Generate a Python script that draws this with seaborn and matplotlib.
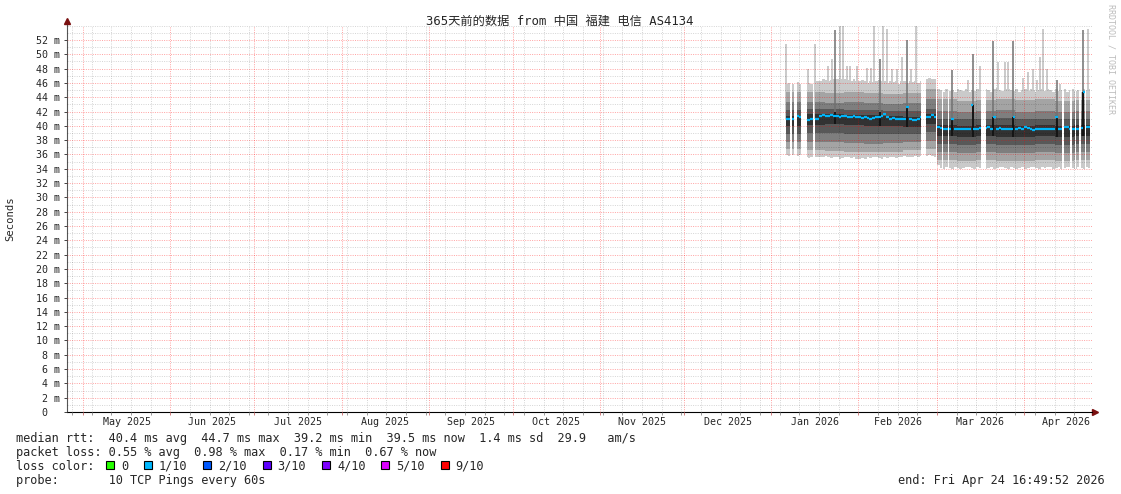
import numpy as np
import pandas as pd
import seaborn as sns
import matplotlib
matplotlib.use("Agg")
import matplotlib.pyplot as plt
import matplotlib.dates as mdates
from matplotlib.patches import Patch
from matplotlib.ticker import MultipleLocator, FixedLocator, FuncFormatter, NullFormatter

nan = np.nan

# day numbers are counted from 2026-01-01 00:00, one value per day from day 5 to day 113
first_day = 5

median_ms = [
    41.0, 41.0, 40.9, 40.9, 41.4, 41.2, nan, 40.8, 40.8, 40.9, 40.9, 41.0,
    41.4, 41.5, 41.4, 41.4, 41.5, 41.4, 41.4, 41.3, 41.4, 41.4, 41.3, 41.3, 41.4,
    41.3, 41.2, 41.1, 41.2, 41.1, 41.0, 41.1, 41.2, 41.3, 41.4, 41.6, 41.2, 41.0,
    41.1, 41.0, 41.0, 40.9, 41.0, 42.7, 40.9, 40.8, 40.8, 40.9, 41.2,
    nan, 41.3, 41.3, 41.5, 41.2,
    39.9, 39.7, 39.6, 39.5, 39.6, 41.0, 39.6, 39.5, 39.6, 39.5, 39.6, 39.5,
    42.9, 39.6, 39.6, 39.7, nan, 39.7, 39.8, 39.6, 41.2, 39.6, 39.7, 39.6,
    39.5, 39.6, 39.6, 41.2, 39.6, 39.7, 39.6, 39.9, 39.7, 39.5, 39.4, 39.5,
    39.5, 39.6, 39.5, 39.6, 39.5, 39.6, 41.2, 39.6, 39.6, 39.8, 39.9, 39.6,
    39.6, 39.5, 39.5, 39.7, 44.8, 39.8, 39.8,
]

# highest ping (top of the light smoke)
top_ms = [
    45.9, 46.0, 45.8, 45.9, 46.1, 45.9, nan, 46.3, 46.0, 45.8, 46.1, 46.2,
    46.3, 46.5, 46.4, 46.2, 46.4, 46.6, 46.5, 46.3, 46.5, 46.6, 46.4, 46.3, 46.5,
    46.2, 46.3, 46.4, 46.2, 46.0, 46.3, 46.1, 46.2, 46.4, 46.3, 46.2, 46.0, 46.3,
    46.1, 46.2, 45.9, 46.3, 46.2, 46.0, 46.2, 46.1, 46.3, 46.0, 46.2,
    nan, 46.6, 46.7, 46.5, 46.6,
    45.2, 45.0, 44.8, 45.1, 44.9, 45.0, 44.8, 45.2, 45.0, 44.9, 45.1, 44.8,
    45.0, 44.9, 45.1, 45.0, nan, 45.2, 45.0, 44.8, 45.1, 45.3, 45.0, 44.9,
    45.1, 45.2, 45.0, 44.9, 45.1, 44.8, 45.0, 45.2, 44.9, 45.1, 45.0, 44.8,
    45.0, 45.2, 44.9, 45.1, 45.0, 44.8, 45.1, 44.9, 45.0, 45.2, 44.8, 45.0,
    45.1, 44.9, 45.0, 44.8, 45.2, 45.0, 45.1,
]

# lowest ping (bottom of the light smoke)
bottom_ms = [
    35.9, 35.8, 35.9, 36.0, 35.8, 35.9, nan, 35.6, 35.5, 35.7, 35.6, 35.7,
    35.7, 35.6, 35.8, 35.6, 35.5, 35.7, 35.6, 35.4, 35.5, 35.6, 35.7, 35.5, 35.6,
    35.4, 35.3, 35.5, 35.4, 35.6, 35.5, 35.7, 35.6, 35.5, 35.4, 35.6, 35.5, 35.7,
    35.6, 35.5, 35.7, 35.6, 35.8, 35.7, 35.6, 35.7, 35.8, 35.7, 35.8,
    nan, 35.8, 35.9, 35.8, 35.7,
    34.5, 34.1, 34.0, 34.2, 34.1, 34.0, 34.2, 34.1, 34.0, 34.1, 34.3, 34.2,
    34.1, 34.0, 34.2, 34.1, nan, 34.0, 34.1, 34.2, 34.0, 34.1, 34.2, 34.3,
    34.1, 34.0, 34.2, 34.1, 34.0, 34.1, 34.2, 34.0, 34.1, 34.3, 34.2, 34.1,
    34.0, 34.2, 34.1, 34.3, 34.2, 34.0, 34.1, 34.2, 34.0, 34.1, 34.2, 34.3,
    34.1, 34.0, 34.2, 34.1, 34.0, 34.2, 34.1,
]

# inner smoke layers, one value per block of days
block_start = [5, 12, 19, 26, 33, 40, 47, 54, 59, 66, 73, 80, 87, 94, 101, 108]
p9_ms = [44.8, 44.7, 44.6, 44.7, 44.6, 44.5, 44.6, 45.1, 43.7, 43.5, 43.6, 43.8, 43.6, 43.7, 43.5, 43.6]
p8_ms = [43.4, 43.3, 43.2, 43.3, 43.2, 43.1, 43.2, 43.7, 42.1, 42.0, 42.1, 42.2, 42.0, 42.1, 42.0, 42.1]
p7_ms = [42.2, 42.3, 42.3, 42.2, 42.2, 42.1, 42.1, 42.4, 41.0, 40.9, 41.0, 41.1, 40.9, 41.0, 40.9, 41.0]
p6_ms = [41.4, 41.6, 41.6, 41.5, 41.5, 41.4, 41.3, 41.6, 40.1, 40.0, 40.1, 40.1, 40.0, 40.1, 40.0, 40.1]
p5_ms = [40.0, 40.1, 40.2, 40.1, 40.0, 40.0, 39.9, 40.2, 38.6, 38.5, 38.6, 38.5, 38.5, 38.6, 38.5, 38.6]
p4_ms = [38.9, 39.0, 39.0, 38.9, 38.8, 38.8, 38.9, 39.1, 37.4, 37.3, 37.4, 37.3, 37.3, 37.4, 37.3, 37.4]
p3_ms = [37.7, 37.8, 37.7, 37.6, 37.5, 37.6, 37.7, 37.9, 36.3, 36.2, 36.3, 36.2, 36.2, 36.3, 36.2, 36.3]
p2_ms = [36.7, 36.6, 36.5, 36.4, 36.3, 36.4, 36.6, 36.8, 35.2, 35.1, 35.2, 35.1, 35.1, 35.2, 35.1, 35.2]

# stretches with data (start day, end day)
segments = [(5.16, 6.69), (7.41, 8.12), (9.08, 10.61), (12.64, 14.99), (15.60, 53.34),
            (55.12, 58.58), (58.93, 60.72), (61.29, 62.85), (63.32, 74.71), (76.49, 103.66),
            (104.27, 106.45), (107.06, 108.16), (108.52, 109.71), (110.21, 111.75), (112.10, 113.70)]

# single slow pings
light_spike_day = [5.3, 13.1, 15.7, 20.2, 21.7, 24.5, 25.6, 27.0, 28.0, 30.6, 34.2, 35.6, 36.7,
                   39.9, 41.3, 43.1, 44.9, 46.7, 49.9, 51.7,
                   70.1, 74.5, 80.8, 83.3, 84.3, 89.6, 91.3, 93.2, 94.6, 95.7, 96.8, 98.2, 102.8, 112.8]
light_spike_top = [51.4, 47.9, 51.4, 48.3, 49.4, 54.0, 54.0, 48.3, 48.3, 48.3, 48.1, 48.1, 54.0,
                   54.0, 53.5, 48.0, 48.0, 49.6, 48.0, 54.0,
                   46.4, 48.3, 48.9, 48.9, 48.9, 46.7, 47.5, 48.0, 46.4, 49.6, 53.5, 48.0, 45.9, 53.5]
# several slow pings in one step
dark_spike_day = [22.7, 38.7, 48.4, 64.4, 71.9, 79.0, 86.1, 101.8, 111.0]
dark_spike_core = [42.0, 42.0, 42.7, 41.0, 42.9, 41.2, 41.2, 41.2, 44.8]
dark_spike_top = [53.4, 49.4, 52.0, 47.8, 50.1, 51.8, 51.8, 46.4, 53.4]

month_names = ["May 2025", "Jun 2025", "Jul 2025", "Aug 2025", "Sep 2025", "Oct 2025",
               "Nov 2025", "Dec 2025", "Jan 2026", "Feb 2026", "Mar 2026", "Apr 2026"]
y_ticks = list(range(0, 54, 2))

loss_labels = ["0", "1/10", "2/10", "3/10", "4/10", "5/10", "9/10"]
loss_colors = ["#26ff00", "#00b8ff", "#0059ff", "#5e00ff", "#7e00ff", "#dd00ff", "#ff0000"]

smoke_colors = ["#cacaca", "#a4a4a4", "#7e7e7e", "#585858", "#323232"]

W, H = 1121, 494

sns.set_style("white")
plt.rcParams["font.family"] = ["DejaVu Sans Mono", "Noto Sans CJK SC"]

base = mdates.date2num(pd.Timestamp("2026-01-01"))


def daily(arr, d):
    return arr[int(np.floor(d)) - first_day]


def blocked(arr, d):
    return arr[np.searchsorted(block_start, np.floor(d), side="right") - 1]


fig = plt.figure(figsize=(W / 100, H / 100), dpi=100)
ax = fig.add_axes([67 / W, 82 / H, 1025 / W, 386.3 / H])

layers = [(bottom_ms, top_ms, daily), (p2_ms, p9_ms, blocked), (p3_ms, p8_ms, blocked),
          (p4_ms, p7_ms, blocked), (p5_ms, p6_ms, blocked)]

# light spikes sit behind the smoke
ax.vlines(base + np.array(light_spike_day),
          [daily(median_ms, d) for d in light_spike_day], light_spike_top,
          color=smoke_colors[0], lw=1.4, zorder=1)

for s, e in segments:
    inner = np.arange(np.floor(s) + 1, np.ceil(e))
    knots = np.concatenate([[s], inner, [e]])
    starts = knots[:-1]
    for (lo_arr, hi_arr, get), col in zip(layers, smoke_colors):
        lo = [get(lo_arr, d) for d in starts]
        hi = [get(hi_arr, d) for d in starts]
        ax.fill_between(base + knots, lo + lo[-1:], hi + hi[-1:], step="post",
                        color=col, lw=0, zorder=2)

ax.vlines(base + np.array(dark_spike_day),
          [blocked(p6_ms, d) for d in dark_spike_day], dark_spike_top,
          color="#707070", lw=1.1, zorder=3)
ax.vlines(base + np.array(dark_spike_day),
          [blocked(p5_ms, d) for d in dark_spike_day], dark_spike_core,
          color="#151515", lw=1.4, zorder=3)

for s, e in segments:
    inner = np.arange(np.floor(s) + 1, np.ceil(e))
    knots = np.concatenate([[s], inner, [e]])
    vals = [daily(median_ms, d) for d in knots[:-1]]
    ax.hlines(vals, base + knots[:-1], base + knots[1:], color="#00b4f8", lw=1.6, zorder=4)

# axes, grid
x0 = pd.Timestamp("2025-04-25 06:00")
x1 = pd.Timestamp("2026-04-25 06:00")
ax.set_xlim(mdates.date2num(x0), mdates.date2num(x1))
ax.set_ylim(0, 54)

month_starts = pd.date_range("2025-05-01", "2026-05-01", freq="MS")
weeks = pd.date_range("2025-04-27", "2026-04-25", freq="W-SUN")
ax.xaxis.set_major_locator(FixedLocator(mdates.date2num(month_starts[:-1])))
ax.xaxis.set_minor_locator(FixedLocator(mdates.date2num(weeks)))
ax.xaxis.set_major_formatter(NullFormatter())
ax.yaxis.set_major_locator(FixedLocator(y_ticks))
ax.yaxis.set_minor_locator(MultipleLocator(1))
ax.yaxis.set_major_formatter(FuncFormatter(lambda v, _: "0  " if v == 0 else f"{int(v)} m"))

dots = (0, (1, 1.3))
ax.grid(which="minor", color="black", alpha=0.16, ls=dots, lw=0.72)
ax.grid(which="major", color="red", alpha=0.35, ls=dots, lw=0.72)
ax.set_axisbelow(False)

ax.tick_params(axis="y", which="major", length=2.2, width=0.7, color="#444444", pad=2.9,
               labelsize=7.2, left=True)
ax.tick_params(axis="y", which="minor", length=0)
ax.tick_params(axis="x", which="major", length=2.5, width=0.7, color="#d08080", bottom=True)
ax.tick_params(axis="x", which="minor", length=2, width=0.6, color="#888888", bottom=True)

sns.despine(ax=ax)
ax.spines["left"].set_color("#555555")
ax.spines["left"].set_linewidth(0.8)
ax.spines["bottom"].set_color("black")
ax.spines["bottom"].set_linewidth(0.8)
ax.plot([0, 0], [1, 1.01], transform=ax.transAxes, clip_on=False, color="#555555", lw=0.8)
ax.plot([1, 1.003], [0, 0], transform=ax.transAxes, clip_on=False, color="black", lw=0.8)
ax.plot([0], [1.011], marker="^", ms=4, color="#7a1010", transform=ax.transAxes, clip_on=False)
ax.plot([1.003], [0], marker=">", ms=4, color="#7a1010", transform=ax.transAxes, clip_on=False)

for m0, m1, name in zip(month_starts[:-1], month_starts[1:], month_names):
    mid = mdates.date2num(m0 + (m1 - m0) / 2)
    ax.text(mid, -0.025, name, transform=ax.get_xaxis_transform(), ha="center", va="center",
            fontsize=7.2)


def fx(px):
    return px / W


def fy(py):
    return 1 - py / H


fig.text(fx(560), fy(21), "365天前的数据 from 中国 福建 电信 AS4134", ha="center", va="center",
         fontsize=8.8)
fig.text(fx(10), fy(219), "Seconds", rotation=90, ha="center", va="center", fontsize=7.6)
fig.text(fx(1111), fy(4), "RRDTOOL / TOBI OETIKER", rotation=270, ha="center", va="top",
         fontsize=6, color="#bcbcbc")

fs = 8.6
fig.text(fx(16), fy(438), "median rtt:  40.4 ms avg  44.7 ms max  39.2 ms min  39.5 ms now  1.4 ms sd  29.9   am/s",
         ha="left", va="center", fontsize=fs)
fig.text(fx(16), fy(452), "packet loss: 0.55 % avg  0.98 % max  0.17 % min  0.67 % now",
         ha="left", va="center", fontsize=fs)
fig.text(fx(16), fy(466), "loss color:", ha="left", va="center", fontsize=fs)
fig.text(fx(16), fy(480), "probe:       10 TCP Pings every 60s", ha="left", va="center", fontsize=fs)
fig.text(fx(1105), fy(480), "end: Fri Apr 24 16:49:52 2026", ha="right", va="center", fontsize=fs)

handles = [Patch(facecolor=c, edgecolor="black", lw=0.8) for c in loss_colors]
fig.legend(handles, loss_labels, ncol=len(loss_labels), loc="center left",
           bbox_to_anchor=(fx(106), fy(466)), frameon=False, fontsize=fs,
           handlelength=0.67, handleheight=0.67, handletextpad=0.59, columnspacing=1.32,
           borderpad=0, borderaxespad=0)

fig.savefig("out.png", dpi=100)
